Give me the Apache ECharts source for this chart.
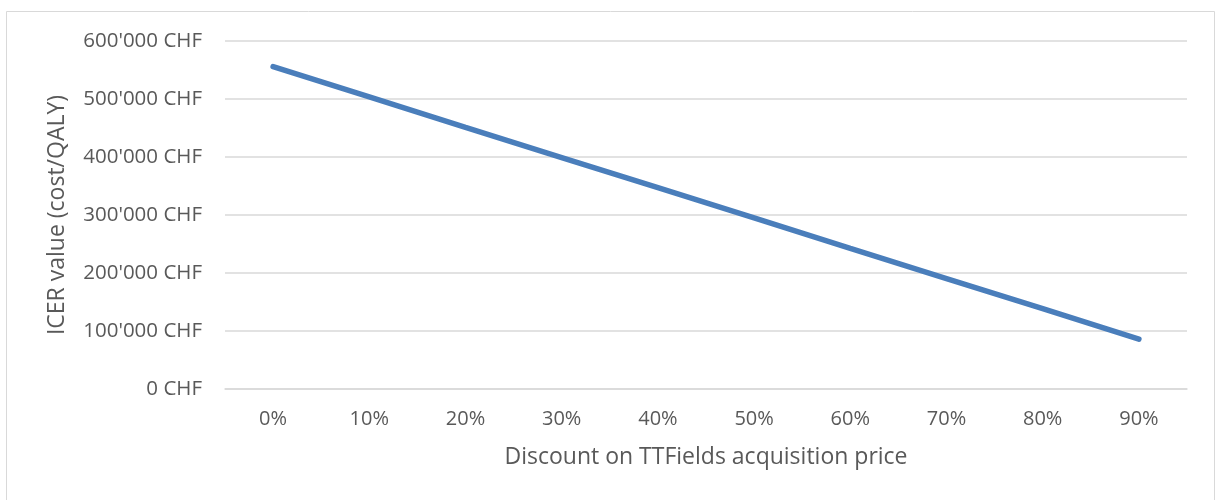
<!DOCTYPE html>
<html>
<head>
<meta charset="utf-8">
<script src="https://cdn.jsdelivr.net/npm/echarts@6/dist/echarts.min.js"></script>
<style>
  html, body { margin: 0; padding: 0; background: #fff; }
  #chart { width: 1216px; height: 500px; }
</style>
</head>
<body>
<div id="chart"></div>
<script>
// Discount levels on the device price (x axis)
const discounts = ['0%', '10%', '20%', '30%', '40%', '50%', '60%', '70%', '80%', '90%'];
// ICER in CHF per QALY for each discount level
const icerValues = [556000, 503500, 451000, 399000, 347000, 295000, 242500, 190500, 138500, 86000];
// Axis titles
const xTitle = 'Discount on TTFields acquisition price';
const yTitle = 'ICER value (cost/QALY)';

const fontFamily = '"Open Sans", "Liberation Sans", sans-serif';
const textColor = '#595959';

function formatChf(v) {
  const s = String(Math.round(v)).replace(/\B(?=(\d{3})+(?!\d))/g, "'");
  return s + ' CHF';
}

const chart = echarts.init(document.getElementById('chart'), null, { renderer: 'canvas' });
chart.setOption({
  animation: false,
  backgroundColor: '#fff',
  graphic: [{
    type: 'rect',
    shape: { x: 6.5, y: 11.5, width: 1208, height: 520 },
    style: { fill: 'none', stroke: '#d9d9d9', lineWidth: 1 },
    silent: true
  }],
  grid: { left: 225, right: 29, top: 41, bottom: 111, containLabel: false },
  xAxis: {
    type: 'category',
    data: discounts,
    boundaryGap: true,
    name: xTitle,
    nameLocation: 'middle',
    nameGap: 57,
    nameTextStyle: { color: textColor, fontSize: 23, fontFamily },
    axisLine: { show: true, lineStyle: { color: '#d9d9d9', width: 1.5 } },
    axisTick: { show: false },
    axisLabel: { color: textColor, fontSize: 20, fontFamily, margin: 20 },
    splitLine: { show: false }
  },
  yAxis: {
    type: 'value',
    min: 0,
    max: 600000,
    interval: 100000,
    name: yTitle,
    nameLocation: 'middle',
    nameGap: 156,
    nameRotate: 90,
    nameTextStyle: { color: textColor, fontSize: 23, fontFamily },
    axisLine: { show: false },
    axisTick: { show: false },
    axisLabel: { color: textColor, fontSize: 20.5, fontFamily, margin: 23, formatter: formatChf },
    splitLine: { lineStyle: { color: '#d9d9d9', width: 1.5 } }
  },
  series: [{
    type: 'line',
    data: icerValues,
    symbol: 'none',
    lineStyle: { color: '#4a7ebb', width: 5.5, cap: 'round' },
    itemStyle: { color: '#4a7ebb' }
  }]
});
</script>
</body>
</html>
